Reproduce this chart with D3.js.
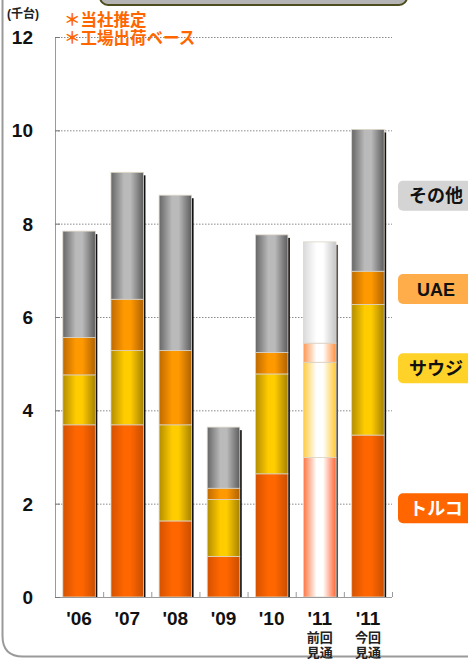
<!DOCTYPE html>
<html>
<head>
<meta charset="utf-8">
<script src="https://cdn.jsdelivr.net/npm/d3@7"></script>
<style>
  body { margin: 0; background: #fff; }
  svg { display: block; font-family: "Liberation Sans", Arial, "Noto Sans CJK JP", sans-serif; }
</style>
</head>
<body>
<div class="chart-container"></div>
<script>
const years = ["'06", "'07", "'08", "'09", "'10", "'11", "'11"];
const notes = ["", "", "", "", "", "前回|見通", "今回|見通"];
const turkey = [3.69, 3.69, 1.63, 0.87, 2.64, 2.99, 3.47];
const saudi = [1.07, 1.59, 2.06, 1.22, 2.14, 2.04, 2.80];
const uae = [0.80, 1.10, 1.59, 0.24, 0.46, 0.41, 0.71];
const other = [2.28, 2.72, 3.33, 1.31, 2.52, 2.17, 3.04];
const faded = [false, false, false, false, false, true, false];
const seriesKeys = ["トルコ", "サウジ", "UAE", "その他"];
const yTicks = [0, 2, 4, 6, 8, 10, 12];

const width = 468, height = 659;
const svg = d3.select(".chart-container")
  .append("svg")
  .attr("width", width)
  .attr("height", height);

const defs = svg.append("defs");

// horizontal gradients: [left, mid, right]
const grads = {
  "トルコ": ["#d45200", "#ff6600", "#c94e00"],
  "サウジ": ["#b38d00", "#ffcc00", "#a68200"],
  "UAE": ["#bd6a00", "#ff9900", "#b06200"],
  "その他": ["#666666", "#bababa", "#5c5c5c"]
};
const fadedGrads = {
  "トルコ": ["#ff7744", "#ffffff", "#ff6633"],
  "サウジ": ["#ffcc44", "#ffffff", "#ffc933"],
  "UAE": ["#ff9955", "#ffffff", "#ff9040"],
  "その他": ["#dadada", "#ffffff", "#c4c4c4"]
};
function makeGrad(id, c) {
  const g = defs.append("linearGradient").attr("id", id)
    .attr("x1", "0%").attr("x2", "100%").attr("y1", "0%").attr("y2", "0%");
  g.append("stop").attr("offset", "0%").attr("stop-color", c[0]);
  g.append("stop").attr("offset", "40%").attr("stop-color", c[1]);
  g.append("stop").attr("offset", "60%").attr("stop-color", c[1]);
  g.append("stop").attr("offset", "100%").attr("stop-color", c[2]);
}
seriesKeys.forEach((k, i) => {
  makeGrad("g" + i, grads[k]);
  makeGrad("f" + i, fadedGrads[k]);
});

// frame
svg.append("path")
  .attr("d", "M2.5,0 L2.5,636 Q2.5,656.5 23,656.5 L470,656.5")
  .attr("fill", "none")
  .attr("stroke", "#9a9a9a")
  .attr("stroke-width", 2);
svg.append("rect")
  .attr("x", 100).attr("y", -20)
  .attr("width", 307).attr("height", 25)
  .attr("rx", 8)
  .attr("fill", "#b4b4b4")
  .attr("stroke", "#4d4d1f")
  .attr("stroke-width", 2);

const x = d3.scaleBand()
  .domain(d3.range(years.length))
  .range([55, 392])
  .paddingInner(0.325)
  .paddingOuter(0.1625);
const y = d3.scaleLinear().domain([0, 12]).range([597, 37]);

// gridlines
svg.append("g")
  .selectAll("line")
  .data(yTicks.slice(1))
  .enter().append("line")
  .attr("x1", 55).attr("x2", 392)
  .attr("y1", d => y(d) + 0.5).attr("y2", d => y(d) + 0.5)
  .attr("stroke", "#8a8a8a")
  .attr("stroke-dasharray", "1.5,1.5");

// stacked bars
const table = years.map((yr, i) => ({
  i, "トルコ": turkey[i], "サウジ": saudi[i], "UAE": uae[i], "その他": other[i]
}));
const stacked = d3.stack().keys(seriesKeys)(table);

// shadows
svg.append("g")
  .selectAll("rect")
  .data(table)
  .enter().append("rect")
  .attr("x", d => x(d.i) + 2)
  .attr("y", d => y(stacked[3][d.i][1]) + 3)
  .attr("width", x.bandwidth())
  .attr("height", d => y(0) - y(stacked[3][d.i][1]) - 3)
  .attr("fill", d => faded[d.i] ? "#555" : "#111");

stacked.forEach((s, si) => {
  svg.append("g")
    .selectAll("rect")
    .data(s)
    .enter().append("rect")
    .attr("x", (d, i) => x(i))
    .attr("y", d => y(d[1]))
    .attr("width", x.bandwidth())
    .attr("height", d => y(d[0]) - y(d[1]))
    .attr("fill", (d, i) => `url(#${faded[i] ? "f" : "g"}${si})`)
    .attr("stroke", "#ded6c8")
    .attr("stroke-width", 0.8);
});

// axes
const axisColor = "#9a9a9a";
svg.append("line")
  .attr("x1", 55.5).attr("x2", 55.5).attr("y1", y(12)).attr("y2", y(0) + 0.5)
  .attr("stroke", axisColor);
svg.append("line")
  .attr("x1", 55).attr("x2", 392).attr("y1", y(0) + 0.5).attr("y2", y(0) + 0.5)
  .attr("stroke", axisColor);
svg.append("g")
  .selectAll("line")
  .data(yTicks)
  .enter().append("line")
  .attr("x1", 55).attr("x2", 60)
  .attr("y1", d => y(d) + 0.5).attr("y2", d => y(d) + 0.5)
  .attr("stroke", "#777");
svg.append("g")
  .selectAll("line")
  .data(d3.range(years.length + 1))
  .enter().append("line")
  .attr("x1", d => 55 + d * x.step() + 0.5)
  .attr("x2", d => 55 + d * x.step() + 0.5)
  .attr("y1", y(0) - 5).attr("y2", y(0))
  .attr("stroke", axisColor);

// y tick labels
svg.append("g")
  .selectAll("text")
  .data(yTicks)
  .enter().append("text")
  .attr("x", 33)
  .attr("y", d => y(d) + 7)
  .attr("text-anchor", "end")
  .style("font-size", "19px")
  .style("font-weight", "bold")
  .attr("fill", "#111")
  .text(d => d);

svg.append("text")
  .attr("x", 7).attr("y", 18)
  .style("font-size", "12px")
  .style("font-weight", "bold")
  .attr("fill", "#222")
  .text("(千台)");

// notes
svg.append("g")
  .selectAll("text")
  .data(["＊当社推定", "＊工場出荷ベース"])
  .enter().append("text")
  .attr("x", 64)
  .attr("y", (d, i) => 26 + i * 18)
  .style("font-size", "16.5px")
  .style("font-weight", "bold")
  .attr("fill", "#ff6600")
  .text(d => d);

// x labels
const xl = svg.append("g")
  .selectAll("g")
  .data(years)
  .enter().append("g")
  .attr("transform", (d, i) => `translate(${x(i) + x.bandwidth() / 2},0)`);
xl.append("text")
  .attr("y", 625)
  .attr("text-anchor", "middle")
  .style("font-size", "19px")
  .style("font-weight", "bold")
  .attr("fill", "#111")
  .text(d => d);
xl.each(function (d, i) {
  if (!notes[i]) return;
  notes[i].split("|").forEach((t, j) => {
    d3.select(this).append("text")
      .attr("y", 641.5 + j * 15)
      .attr("text-anchor", "middle")
      .style("font-size", "13px")
      .style("font-weight", "bold")
      .attr("fill", "#222")
      .text(t);
  });
});

// legend tags, placed at the middle of each series in the last bar
const legendFill = { "トルコ": "#ff6600", "サウジ": "#ffd22a", "UAE": "#ffad4a", "その他": "#d4d4d4" };
const legendY = { "トルコ": 1.9, "サウジ": 4.9, "UAE": 6.6, "その他": 8.6 };
const lg = svg.append("g")
  .selectAll("g")
  .data(seriesKeys)
  .enter().append("g")
  .attr("transform", d => `translate(398,${y(legendY[d])})`);
lg.append("rect")
  .attr("x", 0).attr("y", -15)
  .attr("width", 80).attr("height", 30)
  .attr("rx", 5)
  .attr("fill", d => legendFill[d]);
lg.append("text")
  .attr("x", 38).attr("y", 6.5)
  .attr("text-anchor", "middle")
  .style("font-size", "18px")
  .style("font-weight", "bold")
  .attr("fill", d => d === "トルコ" ? "#fff" : "#111")
  .text(d => d);
</script>
</body>
</html>
